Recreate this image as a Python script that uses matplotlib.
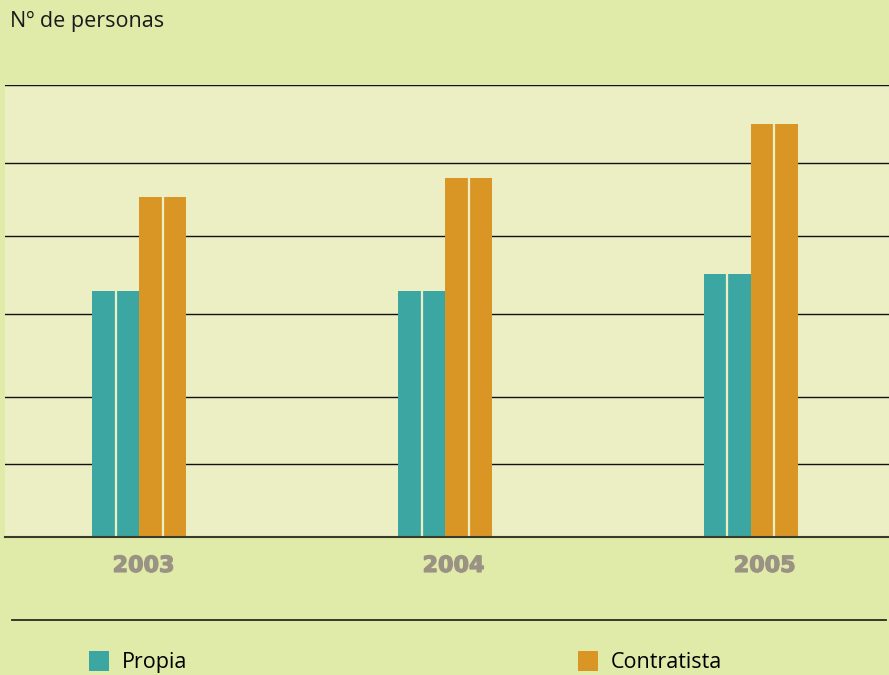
import matplotlib
matplotlib.use("Agg")
import matplotlib.pyplot as plt
import matplotlib.patheffects as pe
from matplotlib.lines import Line2D
import numpy as np

years = ["2003", "2004", "2005"]
propia = [246, 246, 263]
contratista = [340, 359, 413]
grid_values = [73, 140, 223, 301, 374, 452]
series_names = ["Propia", "Contratista"]

outer_bg = "#e0eaa9"
inner_bg = "#ecefc3"
teal = "#3ca6a2"
orange = "#d99624"
year_color = "#9a9384"

plt.rcParams['font.family'] = ['Open Sans', 'DejaVu Sans']

fig = plt.figure(figsize=(8.89, 6.75), dpi=100, facecolor=outer_bg)
ax = fig.add_axes([5/889, 138/675, 884/889, 452/675])
ax.set_facecolor(inner_bg)

x = np.arange(len(years))
w = 0.1536
b1 = ax.bar(x - w/2, propia, width=w, color=teal, zorder=3, linewidth=0)
b2 = ax.bar(x + w/2, contratista, width=w, color=orange, zorder=3, linewidth=0)
# thin light divider in the middle of each bar
ax.vlines(x - w/2, 0, propia, color=inner_bg, lw=1.6, zorder=4)
ax.vlines(x + w/2, 0, contratista, color=inner_bg, lw=1.6, zorder=4)

for g in grid_values:
    ax.axhline(g, color="#111111", lw=1.0, zorder=1)

ax.set_xlim(-0.438, 2.451)
ax.set_ylim(0, 452)
ax.set_yticks([])
ax.set_xticks([])
for s in ["top", "left", "right"]:
    ax.spines[s].set_visible(False)
ax.spines["bottom"].set_color("#3a3a2a")
ax.spines["bottom"].set_linewidth(1.5)
ax.spines["bottom"].set_zorder(5)

label_offsets = [0.015, 0.028, 0.045]
for i, yr in enumerate(years):
    ax.text(x[i] + label_offsets[i], -0.064, yr, transform=ax.get_xaxis_transform(),
            ha="center", va="center", fontsize=16, fontweight="heavy",
            color=year_color, family="DejaVu Sans",
            path_effects=[pe.withStroke(linewidth=0.9, foreground=year_color)])

fig.text(10/889, 1 - 21/675, "Nº de personas", fontsize=15.5, color="#1a1a1a",
         ha="left", va="center")

fig.add_artist(Line2D([12/889, 886/889], [1 - 620/675, 1 - 620/675],
                      color="#2a2a22", lw=1.3, transform=fig.transFigure))

leg1 = fig.legend([b1], [series_names[0]], loc="center left",
                  bbox_to_anchor=(80/889, 1 - 662/675), frameon=False,
                  fontsize=15.5, handlelength=0.95, handleheight=1.05,
                  handletextpad=0.6, borderaxespad=0)
leg2 = fig.legend([b2], [series_names[1]], loc="center left",
                  bbox_to_anchor=(569/889, 1 - 662/675), frameon=False,
                  fontsize=15.5, handlelength=0.95, handleheight=1.05,
                  handletextpad=0.6, borderaxespad=0)

fig.savefig("out.png", dpi=100, facecolor=outer_bg)
